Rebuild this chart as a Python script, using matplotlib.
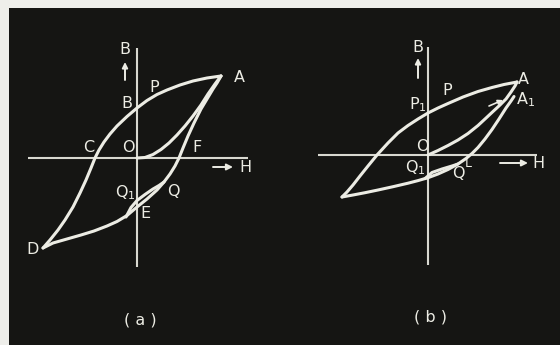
import matplotlib
matplotlib.use("Agg")
import matplotlib.pyplot as plt
from matplotlib.patches import Rectangle

# ---- Panel (a): full hysteresis loop with a minor loop (H, B in arbitrary units)
a_upper_H = [8.4, 7.0, 5.6, 4.3, 3.0, 2.0, 1.0, 0.0, -1.0, -2.0, -2.7, -3.3, -3.8, -4.2, -4.6, -5.1, -5.7, -6.4, -7.2, -7.9, -8.7, -9.4]
a_upper_B = [8.2, 8.0, 7.7, 7.3, 6.8, 6.35, 5.75, 5.0, 4.15, 3.2, 2.4, 1.6, 0.8, 0.0, -1.0, -2.2, -3.5, -4.9, -6.2, -7.2, -8.2, -9.0]
a_lower_H = [-9.4, -8.4, -7.0, -5.6, -4.3, -3.0, -2.0, -1.0, 0.0, 1.0, 2.0, 2.7, 3.3, 3.8, 4.2, 4.6, 5.1, 5.7, 6.4, 7.0, 7.6, 8.0, 8.4]
a_lower_B = [-9.0, -8.5, -8.1, -7.7, -7.3, -6.8, -6.35, -5.75, -4.9, -4.1, -3.2, -2.4, -1.6, -0.8, 0.0, 1.0, 2.2, 3.5, 4.9, 5.9, 6.9, 7.5, 8.2]
a_init_H = [0.0, 0.8, 1.6, 2.4, 3.2, 4.0, 4.8, 5.6, 6.4, 7.1, 7.8, 8.4]
a_init_B = [0.0, 0.05, 0.35, 0.85, 1.5, 2.3, 3.2, 4.2, 5.3, 6.4, 7.4, 8.2]
a_minor_H = [-1.1, -0.6, 0.0, 0.8, 1.6, 2.2, 2.7]
a_minor_B = [-5.9, -4.95, -4.25, -3.65, -3.1, -2.75, -2.4]

# ---- Panel (b): open loop returning to A1
b_upper_H = [8.9, 7.6, 6.4, 5.0, 3.5, 2.0, 1.0, 0.0, -1.0, -2.0, -3.0, -4.0, -5.1, -6.0, -6.8, -7.5, -8.1, -8.6]
b_upper_B = [7.3, 7.05, 6.75, 6.35, 5.8, 5.15, 4.7, 4.2, 3.6, 2.95, 2.2, 1.2, 0.0, -1.1, -2.1, -3.0, -3.7, -4.2]
b_lower_H = [-8.6, -7.5, -6.3, -5.0, -3.5, -2.0, -1.0, 0.0, 1.0, 2.0, 3.0, 3.8, 4.4, 5.0, 5.7, 6.4, 7.1, 7.8, 8.3, 8.6]
b_lower_B = [-4.2, -4.0, -3.77, -3.5, -3.17, -2.82, -2.56, -2.27, -1.9, -1.45, -0.9, -0.35, 0.15, 0.75, 1.6, 2.55, 3.6, 4.7, 5.4, 5.85]
b_init_H = [0.0, 1.0, 2.0, 3.0, 4.0, 5.0, 5.7, 6.5, 7.2, 7.8, 8.3, 8.7, 8.9]
b_init_B = [0.0, 0.45, 0.95, 1.5, 2.15, 2.95, 3.6, 4.35, 5.0, 5.6, 6.3, 6.9, 7.3]
b_minor_H = [-0.3, 0.4, 1.4, 2.4, 3.0]
b_minor_B = [-2.36, -1.75, -1.4, -1.1, -0.9]

a_labels = [("B", -1.2, 10.8), ("A", 10.2, 8.1), ("P", 1.7, 7.0), ("B", -1.0, 5.4),
            ("C", -4.8, 1.1), ("O", -0.9, 1.1), ("F", 6.0, 1.1), ("H", 10.8, -1.0),
            ("Q", 3.6, -3.4), ("Q$_\\mathregular{1}$", -1.2, -3.5), ("E", 0.8, -5.5),
            ("D", -10.4, -9.2), ("( a )", 0.3, -16.2)]
b_labels = [("B", -1.0, 10.8), ("A", 9.5, 7.5), ("P", 1.9, 6.5), ("P$_\\mathregular{1}$", -1.0, 5.0),
            ("A$_\\mathregular{1}$", 9.8, 5.5), ("O", -0.6, 0.9), ("Q$_\\mathregular{1}$", -1.3, -1.3),
            ("Q", 3.0, -1.8), ("L", 4.0, -0.8), ("H", 11.0, -0.8), ("( b )", 0.2, -16.2)]

BG = "#151513"
INK = "#ecece4"
AXC = "#d8d8d0"

W, Hpx = 560, 345
fig = plt.figure(figsize=(W / 100, Hpx / 100), dpi=100)
fig.patch.set_facecolor("#eeeeea")
fig.add_artist(Rectangle((9 / W, 0), 1, 1 - 8 / Hpx, transform=fig.transFigure,
                         facecolor=BG, edgecolor="none", zorder=0))


def make_axes(ox, oy, xl, xr, yb, yt):
    # origin (ox, oy) in pixels from top-left; 10 px per unit
    left = ox + xl * 10
    right = ox + xr * 10
    top = oy - yt * 10
    bottom = oy - yb * 10
    ax = fig.add_axes([left / W, (Hpx - bottom) / Hpx, (right - left) / W, (bottom - top) / Hpx])
    ax.set_xlim(xl, xr)
    ax.set_ylim(yb, yt)
    ax.set_facecolor("none")
    ax.axis("off")
    return ax


def draw_panel(ax, vaxis, haxis, curves, labels, h_arrow, b_arrow):
    ax.plot([0, 0], vaxis, color=AXC, lw=1.5, solid_capstyle="butt")
    ax.plot(haxis, [0, 0], color=AXC, lw=1.5, solid_capstyle="butt")
    for hs, bs in curves:
        ax.plot(hs, bs, color=INK, lw=2.2, solid_capstyle="round", solid_joinstyle="round")
    for txt, x, y in labels:
        fs = 9 if txt == "L" else 11.5
        ax.text(x, y, txt, color=INK, fontsize=fs, ha="center", va="center",
                family="DejaVu Sans")
    (x0, x1, yh) = h_arrow
    ax.annotate("", xy=(x1, yh), xytext=(x0, yh),
                arrowprops=dict(arrowstyle="-|>", color=INK, lw=1.4,
                                mutation_scale=9, shrinkA=0, shrinkB=0))
    (xb, y0, y1) = b_arrow
    ax.annotate("", xy=(xb, y1), xytext=(xb, y0),
                arrowprops=dict(arrowstyle="-|>", color=INK, lw=1.4,
                                mutation_scale=8, shrinkA=0, shrinkB=0))


ax_a = make_axes(137, 158, -12.6, 14.0, -17.5, 14.0)
draw_panel(ax_a, (11.0, -10.9), (-10.9, 11.1),
           [(a_upper_H, a_upper_B), (a_lower_H, a_lower_B),
            (a_init_H, a_init_B), (a_minor_H, a_minor_B)],
           a_labels, (7.6, 9.6, -0.9), (-1.2, 7.8, 9.6))

ax_b = make_axes(428, 155, -11.5, 12.5, -17.5, 13.5)
draw_panel(ax_b, (10.8, -11.0), (-11.0, 10.9),
           [(b_upper_H, b_upper_B), (b_lower_H, b_lower_B),
            (b_init_H, b_init_B), (b_minor_H, b_minor_B)],
           b_labels, (7.2, 10.0, -0.8), (-1.0, 7.7, 9.7))
# small direction arrow near A1
ax_b.annotate("", xy=(7.5, 5.5), xytext=(6.1, 4.9),
              arrowprops=dict(arrowstyle="-|>", color=INK, lw=1.2,
                              mutation_scale=7, shrinkA=0, shrinkB=0))

fig.savefig("out.png", dpi=100, facecolor=fig.get_facecolor())
